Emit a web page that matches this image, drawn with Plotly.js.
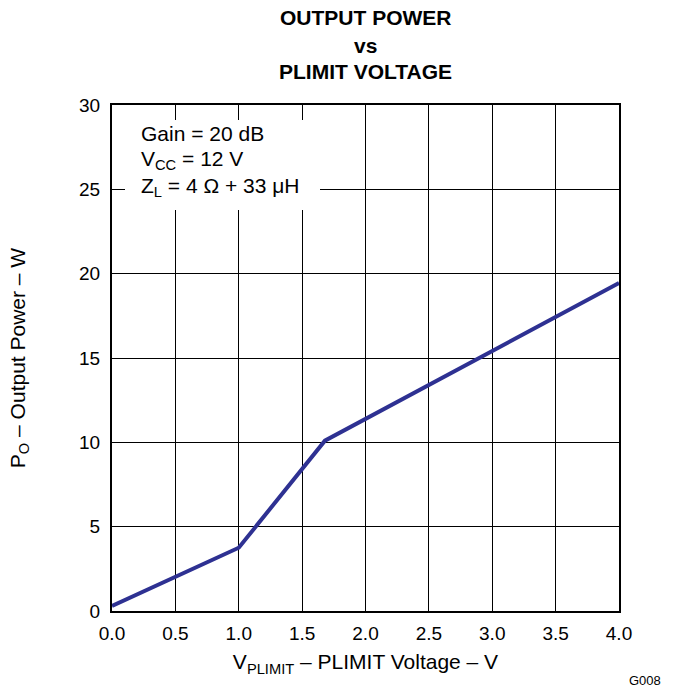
<!DOCTYPE html>
<html>
<head>
<meta charset="utf-8">
<script src="https://cdn.plot.ly/plotly-3.0.1.min.js"></script>
<style>html,body{margin:0;padding:0;background:#fff;}#chart{width:674px;height:692px;}</style>
</head>
<body>
<div id="chart"></div>
<script>
const plimitVoltage = [0.0, 1.0, 1.68, 4.0];
const outputPower = [0.3, 3.75, 10.1, 19.45];
const xTicks = [0, 0.5, 1, 1.5, 2, 2.5, 3, 3.5, 4];
const xTickText = ["0.0","0.5","1.0","1.5","2.0","2.5","3.0","3.5","4.0"];
const yTicks = [0, 5, 10, 15, 20, 25, 30];
const titleLines = ["OUTPUT POWER", "vs", "PLIMIT VOLTAGE"];
const conditionLines = ["Gain = 20 dB", "V<sub>CC</sub> = 12 V", "Z<sub>L</sub> = 4 Ω + 33 μH"];

const FONT = "Liberation Sans, Arial, sans-serif";
const plotTop = 105, plotH = 506, plotLeft = 112, plotW = 507;
function py(pix){ return 1 - (pix - plotTop)/plotH; }
function px(pix){ return (pix - plotLeft)/plotW; }

const annotations = [];
const titleY = [18, 45, 72];
titleLines.forEach((t,i)=>annotations.push({
  text: "<b>"+t+"</b>", xref:"paper", yref:"paper", x:0.5, y:py(titleY[i]),
  xanchor:"center", yanchor:"middle", showarrow:false,
  font:{family:FONT, size:21, color:"#000"}
}));
const condY = [133, 160, 187];
conditionLines.forEach((t,i)=>annotations.push({
  text: t, xref:"paper", yref:"paper", x:px(139), y:py(condY[i]),
  xanchor:"left", yanchor:"middle", showarrow:false,
  font:{family:FONT, size:21, color:"#000"}
}));
annotations.push({
  text:"G008", xref:"paper", yref:"paper", x:px(645), y:py(680),
  xanchor:"center", yanchor:"middle", showarrow:false,
  font:{family:FONT, size:13, color:"#000"}
});

const trace = {
  x: plimitVoltage, y: outputPower, type:"scatter", mode:"lines",
  line:{color:"#2e3192", width:4}, hoverinfo:"skip"
};

const layout = {
  width:674, height:692,
  margin:{l:plotLeft, r:674-plotLeft-plotW, t:plotTop, b:692-plotTop-plotH},
  paper_bgcolor:"#fff", plot_bgcolor:"#fff",
  showlegend:false,
  font:{family:FONT, size:19, color:"#000"},
  xaxis:{
    range:[0,4], tickvals:xTicks, ticktext:xTickText,
    showgrid:true, gridcolor:"#000", gridwidth:1,
    showline:true, linecolor:"#000", linewidth:2, mirror:true,
    ticks:"", zeroline:false, ticklabelstandoff:4,
    tickfont:{family:FONT, size:19, color:"#000"},
    title:{text:"V<sub>PLIMIT</sub> – PLIMIT Voltage – V", font:{family:FONT, size:21, color:"#000"}, standoff:12}
  },
  yaxis:{
    range:[0,30], tickvals:yTicks,
    showgrid:true, gridcolor:"#000", gridwidth:1,
    showline:true, linecolor:"#000", linewidth:2, mirror:true,
    ticks:"", zeroline:false, ticklabelstandoff:6,
    tickfont:{family:FONT, size:19, color:"#000"},
    title:{text:"P<sub>O</sub> – Output Power – W", font:{family:FONT, size:21, color:"#000"}, standoff:48}
  },
  shapes:[{
    type:"rect", xref:"paper", yref:"paper", layer:"above",
    x0:px(125), x1:px(320), y0:py(210), y1:py(120),
    fillcolor:"#fff", line:{width:0}
  }],
  annotations: annotations
};

Plotly.newPlot("chart", [trace], layout, {staticPlot:true, displayModeBar:false});
</script>
</body>
</html>
